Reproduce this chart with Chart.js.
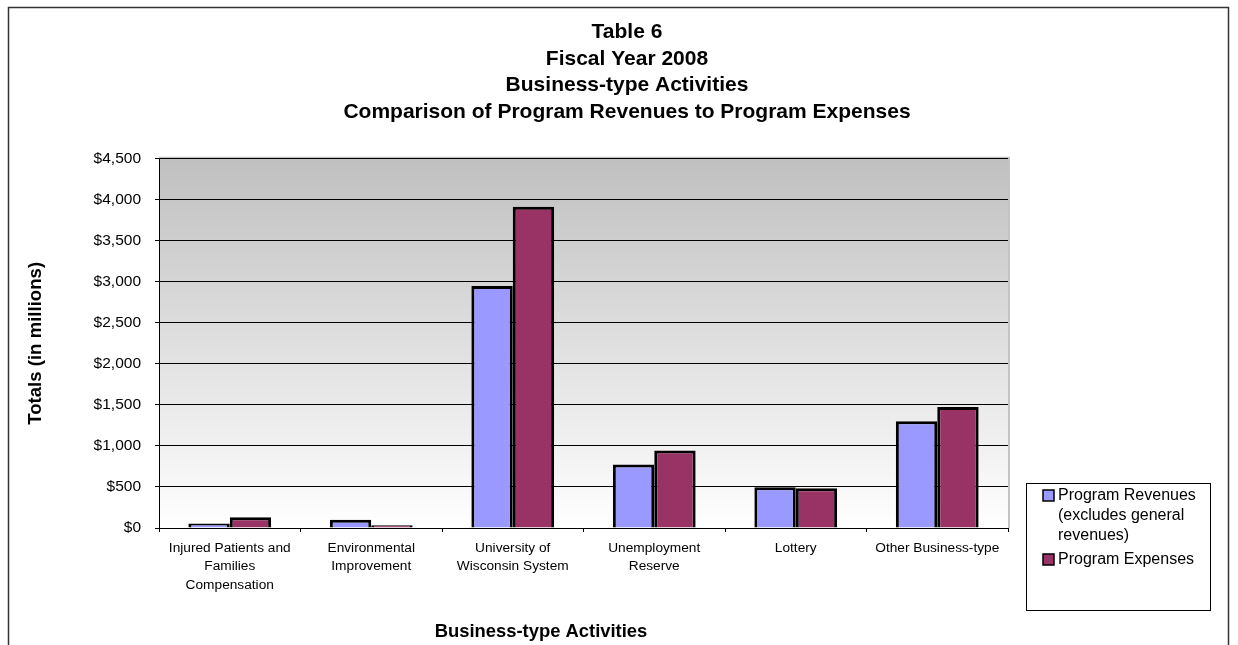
<!DOCTYPE html>
<html>
<head>
<meta charset="utf-8">
<script src="https://cdn.jsdelivr.net/npm/chart.js@4.4.0/dist/chart.umd.min.js"></script>
<style>
  html, body { margin: 0; padding: 0; background: #fff; }
  #chart { display: block; }
</style>
</head>
<body>
<canvas id="chart" width="1238" height="645"></canvas>
<script>
const titleLines = ['Table 6', 'Fiscal Year 2008', 'Business-type Activities', 'Comparison of Program Revenues to Program Expenses'];
const categories = [
  ['Injured Patients and', 'Families', 'Compensation'],
  ['Environmental', 'Improvement'],
  ['University of', 'Wisconsin System'],
  ['Unemployment', 'Reserve'],
  ['Lottery'],
  ['Other Business-type']
];
const revenues = [55, 100, 2950, 775, 495, 1300];
const expenses = [130, 35, 3915, 945, 485, 1475];
const revenueLabel = ['Program Revenues', '(excludes general', 'revenues)'];
const expenseLabel = ['Program Expenses'];
const yTitle = 'Totals (in millions)';
const xTitle = 'Business-type Activities';

const FONT = '"Liberation Sans", Arial, sans-serif';

// frame, plot background, x title and the boxed legend
const decor = {
  id: 'decor',
  beforeDraw(chart) {
    const {ctx, chartArea: a} = chart;
    ctx.save();
    ctx.fillStyle = '#fff';
    ctx.fillRect(0, 0, chart.width, chart.height);
    ctx.strokeStyle = '#333';
    ctx.lineWidth = 1.5;
    ctx.beginPath();
    ctx.moveTo(8.5, chart.height);
    ctx.lineTo(8.5, 7.5);
    ctx.lineTo(1228.5, 7.5);
    ctx.lineTo(1228.5, chart.height);
    ctx.stroke();
    const g = ctx.createLinearGradient(0, a.top, 0, a.bottom);
    g.addColorStop(0, '#c0c0c0');
    g.addColorStop(1, '#ffffff');
    ctx.fillStyle = g;
    ctx.fillRect(a.left, a.top, a.right - a.left, a.bottom - a.top);
    ctx.strokeStyle = '#c4c4c4';
    ctx.lineWidth = 2;
    ctx.beginPath();
    ctx.moveTo(a.left, a.top - 1);
    ctx.lineTo(a.right + 1, a.top - 1);
    ctx.lineTo(a.right + 1, a.bottom);
    ctx.stroke();
    ctx.restore();
  },
  afterDraw(chart) {
    const {ctx, chartArea: a} = chart;
    ctx.save();
    // axis title sits a bit left of the plot centre, as in the original
    ctx.font = 'bold 18.4px ' + FONT;
    ctx.fillStyle = '#000';
    ctx.textAlign = 'center';
    ctx.textBaseline = 'middle';
    ctx.fillText(xTitle, a.left + 382, a.bottom + 104);

    const x = a.right + 18, y = a.bottom - 45;
    ctx.textAlign = 'left';
    ctx.strokeStyle = '#000';
    ctx.lineWidth = 1;
    ctx.strokeRect(x + 0.5, y + 0.5, 184, 127);
    ctx.font = '16px ' + FONT;
    let ly = y + 12;
    chart.data.datasets.forEach(ds => {
      ctx.fillStyle = ds.backgroundColor;
      ctx.fillRect(x + 17, ly - 5, 11, 11);
      ctx.lineWidth = 1.5;
      ctx.strokeRect(x + 17, ly - 5, 11, 11);
      ctx.fillStyle = '#000';
      ds.legendLines.forEach(t => {
        ctx.fillText(t, x + 32, ly + 1);
        ly += 20;
      });
      ly += 4;
    });
    ctx.restore();
  }
};

new Chart(document.getElementById('chart'), {
  type: 'bar',
  data: {
    labels: categories,
    datasets: [{
      label: revenueLabel.join(' '),
      legendLines: revenueLabel,
      data: revenues,
      backgroundColor: '#9999ff',
      borderColor: '#000',
      borderWidth: 3,
      categoryPercentage: 0.585,
      barPercentage: 1
    }, {
      label: expenseLabel.join(' '),
      legendLines: expenseLabel,
      data: expenses,
      backgroundColor: '#993366',
      borderColor: '#000',
      borderWidth: 3,
      categoryPercentage: 0.585,
      barPercentage: 1
    }]
  },
  options: {
    responsive: false,
    animation: false,
    devicePixelRatio: 1,
    layout: {padding: {left: 16, right: 0, top: 0, bottom: 0}},
    plugins: {
      legend: {display: false},
      tooltip: {enabled: false},
      title: {
        display: true,
        text: titleLines,
        color: '#000',
        font: {family: FONT, size: 21, weight: 'bold', lineHeight: 1.27},
        padding: {top: 19, bottom: 33}
      }
    },
    scales: {
      x: {
        grid: {display: true, drawOnChartArea: false, drawTicks: true, tickLength: 4, color: '#000', offset: true},
        border: {display: true, color: '#000', width: 1},
        ticks: {
          color: '#000', padding: 7, maxRotation: 0, autoSkip: false,
          font: {family: FONT, size: 13.7, lineHeight: 1.34}
        },
        afterFit: s => { s.height = 117; }
      },
      y: {
        min: 0, max: 4500,
        grid: {color: '#000', lineWidth: 1, tickLength: 4},
        border: {display: true, color: '#000', width: 1},
        ticks: {
          stepSize: 500, color: '#000', padding: 14,
          font: {family: FONT, size: 15.5},
          callback: v => '$' + v.toLocaleString('en-US')
        },
        title: {
          display: true, text: yTitle, color: '#000',
          font: {family: FONT, size: 18.6, weight: 'bold', lineHeight: 1.2},
          padding: {top: 9, bottom: 0}
        },
        afterFit: s => { s.width = 143; }
      },
      legendSpace: {
        type: 'linear', position: 'right', display: true,
        grid: {display: false}, border: {display: false}, ticks: {display: false},
        afterFit: s => { s.width = 230; }
      }
    }
  },
  plugins: [decor]
});
</script>
</body>
</html>
